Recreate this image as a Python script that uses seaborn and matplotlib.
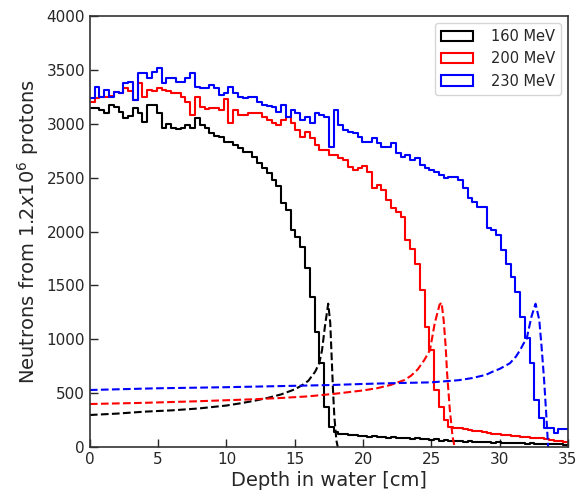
import numpy as np
import pandas as pd
import matplotlib
matplotlib.use("Agg")
import matplotlib.pyplot as plt
import seaborn as sns
from matplotlib.patches import Patch

# ---------------- data ----------------
depth_min, depth_max, n_bins = 0, 35, 100  # 100 bins of 0.35 cm

counts_160 = [3143, 3143, 3130, 3097, 3170, 3160, 3110, 3050, 3070, 3150,
              3100, 3019, 3174, 3170, 3097, 2957, 3000, 2957, 2950, 2960,
              2988, 2960, 3050, 2990, 2960, 2911, 2890, 2880, 2834, 2834,
              2800, 2772, 2741, 2741, 2694, 2633, 2586, 2540, 2478, 2420,
              2264, 2200, 2014, 1950, 1856, 1661, 1392, 1067, 780, 371,
              186, 140, 125, 120, 115, 110, 100, 105, 95, 100,
              90, 95, 85, 90, 80, 85, 80, 75, 80, 70,
              75, 65, 70, 60, 65, 55, 60, 55, 50, 55,
              50, 45, 50, 45, 40, 45, 40, 40, 35, 40,
              35, 30, 35, 30, 30, 25, 30, 25, 25, 20]

counts_200 = [3205, 3236, 3250, 3251, 3260, 3298, 3290, 3329, 3300, 3220,
              3375, 3250, 3313, 3300, 3329, 3313, 3300, 3282, 3282, 3251,
              3200, 3081, 3251, 3158, 3140, 3143, 3150, 3128, 3230, 3004,
              3128, 3081, 3081, 3097, 3097, 3097, 3066, 3035, 3004, 2988,
              3035, 3066, 3004, 2942, 2880, 2926, 2865, 2803, 2756, 2756,
              2710, 2710, 2679, 2663, 2601, 2570, 2586, 2608, 2556, 2400,
              2432, 2385, 2293, 2215, 2184, 2138, 1919, 1841, 1702, 1455,
              1114, 898, 530, 371, 250, 186, 176, 172, 168, 160,
              150, 145, 140, 130, 125, 118, 112, 108, 104, 100,
              95, 92, 88, 84, 80, 75, 68, 60, 52, 46]

counts_230 = [3236, 3344, 3251, 3313, 3251, 3297, 3290, 3375, 3390, 3220,
              3468, 3468, 3421, 3483, 3514, 3375, 3421, 3421, 3390, 3390,
              3421, 3468, 3344, 3328, 3328, 3359, 3328, 3267, 3282, 3344,
              3282, 3250, 3236, 3251, 3251, 3205, 3174, 3165, 3158, 3112,
              3174, 3066, 3128, 3097, 3035, 3066, 3004, 3097, 3080, 3066,
              2787, 3128, 2988, 2942, 2926, 2911, 2880, 2834, 2834, 2865,
              2818, 2787, 2787, 2818, 2725, 2694, 2710, 2663, 2679, 2617,
              2586, 2570, 2555, 2524, 2493, 2509, 2509, 2478, 2400, 2307,
              2277, 2230, 2230, 2029, 2014, 1968, 1828, 1700, 1580, 1440,
              1210, 1010, 780, 436, 269, 176, 176, 130, 170, 165]

# dashed curves (depth [cm], value)
curve_160_x = [0, 2, 4, 6, 8, 10, 11, 12, 13, 14, 15, 15.5, 16, 16.5, 16.8,
               17.0, 17.2, 17.45, 17.6, 17.7, 17.8, 17.9, 18.05, 18.15]
curve_160_y = [297, 310, 328, 340, 358, 385, 405, 428, 455, 488, 535, 570, 615,
               700, 780, 900, 1110, 1330, 1150, 840, 530, 280, 60, 0]

curve_200_x = [0, 4, 8, 12, 14, 16, 18, 20, 21, 22, 23, 23.5, 24, 24.5, 24.9,
               25.25, 25.6, 25.75, 25.9, 26.05, 26.15, 26.35, 26.55, 26.7]
curve_200_y = [399, 410, 425, 443, 455, 470, 495, 525, 545, 575, 620, 660, 720,
               810, 900, 1150, 1320, 1340, 1180, 930, 690, 350, 100, 0]

curve_230_x = [0, 5, 10, 15, 17.6, 20, 22, 25, 27, 28, 29, 29.5, 30, 30.75,
               31.2, 31.5, 31.75, 31.97, 32.33, 32.63, 32.9, 33.07, 33.24,
               33.4, 33.55]
curve_230_y = [529, 545, 555, 568, 575, 585, 592, 600, 620, 640, 670, 700, 725,
               777, 840, 900, 960, 1000, 1210, 1330, 1180, 930, 650, 330, 0]

labels = ["160 MeV", "200 MeV", "230 MeV"]
colors = ["black", "red", "blue"]

# ---------------- plot ----------------
sns.set_style("ticks")
plt.rcParams["font.family"] = ["DejaVu Sans"]
text_color = "#262626"

fig = plt.figure(figsize=(5.76, 5.0), dpi=100)
ax = fig.add_axes([0.156, 0.106, 0.830, 0.862])

edges = np.linspace(depth_min, depth_max, n_bins + 1)
centers = (edges[:-1] + edges[1:]) / 2
bw = (depth_max - depth_min) / n_bins
series = [counts_160, counts_200, counts_230]
curves = [(curve_160_x, curve_160_y), (curve_200_x, curve_200_y),
          (curve_230_x, curve_230_y)]

for cnt, col in zip(series, colors):
    df = pd.DataFrame({"depth": centers, "count": np.asarray(cnt, float)})
    sns.histplot(data=df, x="depth", weights="count", binwidth=bw,
                 binrange=(depth_min, depth_max), element="step",
                 fill=False, color=col, linewidth=1.5, ax=ax)

for (cx, cy), col in zip(curves, colors):
    sns.lineplot(x=cx, y=cy, color=col, linestyle="--", linewidth=1.5,
                 ax=ax, sort=False)

ax.set_xlim(0, 35)
ax.set_ylim(0, 4000)
ax.set_xticks(np.arange(0, 36, 5))
ax.set_yticks(np.arange(0, 4001, 500))
ax.tick_params(direction="in", length=6, width=1, top=False, right=False,
               labelsize=11, colors=text_color)
for s in ax.spines.values():
    s.set_visible(True)
    s.set_color("#333333")
    s.set_linewidth(1.2)

ax.set_xlabel("Depth in water [cm]", fontsize=14, color=text_color,
              labelpad=3)
ax.set_ylabel(r"Neutrons from 1.2$x$10$^6$ protons", fontsize=14,
              color=text_color, labelpad=4)

handles = [Patch(facecolor="none", edgecolor=c, linewidth=1.5, label=l)
           for c, l in zip(colors, labels)]
leg = ax.legend(handles=handles, loc="upper right", fontsize=10.5,
                frameon=True, labelcolor=text_color, borderaxespad=0.5,
                handletextpad=1.2, handlelength=2.2)

fig.savefig("out.png", dpi=100)
